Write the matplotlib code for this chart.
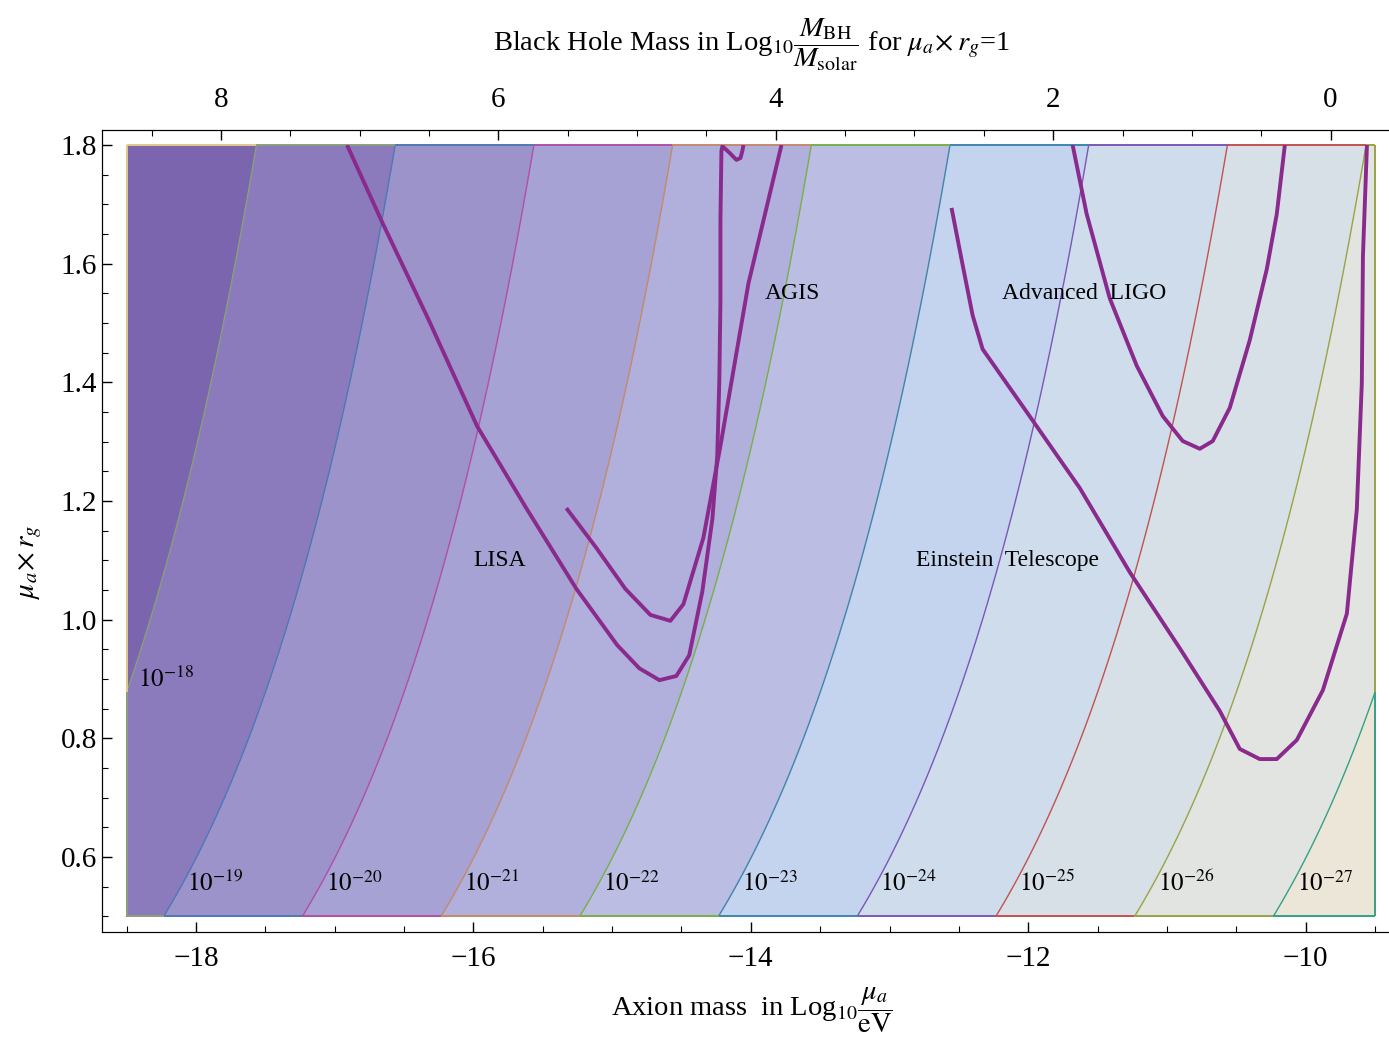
import numpy as np
import matplotlib
matplotlib.use("Agg")
import matplotlib.pyplot as plt
from matplotlib.collections import LineCollection
from matplotlib.patches import Rectangle

plt.rcParams["font.family"] = ["Liberation Serif", "DejaVu Serif"]
plt.rcParams["mathtext.fontset"] = "stix"

# plotted region of the strain map
x_range = [-18.5, -9.5]
y_range = [0.5, 1.8]

# log10 h = -x + 3*log10(y) + offset
h_slope = 3.0
h_offset = -36.33

# offset between axion mass and BH mass scales (top axis)
mass_offset = -9.82

levels = [-27, -26, -25, -24, -23, -22, -21, -20, -19, -18]
line_colors = ["#34a184", "#98a444", "#c4524e", "#7c58b6", "#3f86ad",
               "#78b04a", "#c58a6c", "#b24fa9", "#4c7ab6", "#8aa07a"]
band_colors = ["#ece6d9", "#e1e4e1", "#d7e0e7", "#cedcec", "#c4d3ee",
               "#bbbde2", "#b1afdb", "#a6a2d3", "#9b93ca", "#8b7bbd", "#7b65ae"]
edge_top_color = "#e2c98c"

# detector sensitivity curves (log10 mu, mu*rg)
lisa_x = [-16.911, -16.658, -16.326, -15.973, -15.619, -15.258, -14.963, -14.804,
          -14.659, -14.537, -14.444, -14.350, -14.277, -14.242, -14.227, -14.219,
          -14.219, -14.212, -14.205, -14.154, -14.104, -14.075, -14.061, -14.053]
lisa_y = [1.800, 1.670, 1.507, 1.326, 1.188, 1.052, 0.957, 0.918,
          0.898, 0.905, 0.940, 1.047, 1.170, 1.276, 1.404, 1.539,
          1.674, 1.790, 1.798, 1.787, 1.775, 1.778, 1.790, 1.800]

agis_x = [-15.330, -15.114, -14.905, -14.724, -14.580, -14.486, -14.342, -14.219,
          -14.017, -13.779]
agis_y = [1.188, 1.121, 1.052, 1.008, 0.998, 1.026, 1.138, 1.293, 1.567, 1.800]

ligo_x = [-11.680, -11.579, -11.413, -11.218, -11.030, -10.886, -10.763, -10.670,
          -10.547, -10.403, -10.280, -10.208, -10.150]
ligo_y = [1.800, 1.684, 1.542, 1.428, 1.343, 1.301, 1.288, 1.301,
          1.357, 1.471, 1.591, 1.684, 1.800]

et_x = [-12.553, -12.473, -12.401, -12.329, -11.990, -11.629, -11.268, -10.908,
        -10.619, -10.475, -10.331, -10.208, -10.064, -9.876, -9.703, -9.631,
        -9.595, -9.587, -9.558]
et_y = [1.694, 1.598, 1.513, 1.456, 1.343, 1.222, 1.080, 0.952,
        0.846, 0.782, 0.765, 0.765, 0.797, 0.881, 1.010, 1.186,
        1.399, 1.613, 1.800]

detector_names = ["LISA", "AGIS", "Advanced  LIGO", "Einstein  Telescope"]
name_x = [-15.81, -13.70, -11.60, -12.15]
name_y = [1.10, 1.55, 1.55, 1.10]


def log_strain(x, y):
    return -x + h_slope * np.log10(y) + h_offset


fig = plt.figure(figsize=(13.89, 10.41), dpi=100)
ax = fig.add_axes([0.0732, 0.105, 0.9347, 0.7705])

xs = np.linspace(x_range[0], x_range[1], 600)
ys = np.linspace(y_range[0], y_range[1], 400)
X, Y = np.meshgrid(xs, ys)
L = log_strain(X, Y)

ax.contourf(X, Y, L, levels=[-40] + levels + [-10], colors=band_colors)
ax.contour(X, Y, L, levels=levels, colors=line_colors, linewidths=1.0)

# thin coloured border of the plotted region
corners = [(x_range[0], y_range[0]), (x_range[1], y_range[0]),
           (x_range[1], y_range[1]), (x_range[0], y_range[1]),
           (x_range[0], y_range[0])]
segs, cols = [], []
for (x0, y0), (x1, y1) in zip(corners[:-1], corners[1:]):
    t = np.linspace(0, 1, 800)
    px = x0 + (x1 - x0) * t
    py = y0 + (y1 - y0) * t
    for i in range(len(t) - 1):
        segs.append([(px[i], py[i]), (px[i + 1], py[i + 1])])
        k = int(np.ceil(log_strain((px[i] + px[i + 1]) / 2, (py[i] + py[i + 1]) / 2)))
        cols.append(line_colors[levels.index(k)] if k in levels else edge_top_color)
ax.add_collection(LineCollection(segs, colors=cols, linewidths=1.4))

# detector curves, clipped to the plotted region
clip = Rectangle((x_range[0], y_range[0]), x_range[1] - x_range[0],
                 y_range[1] - y_range[0], transform=ax.transData)
for cx, cy in [(lisa_x, lisa_y), (agis_x, agis_y), (ligo_x, ligo_y), (et_x, et_y)]:
    ln, = ax.plot(cx, cy, color="#8a2a8c", lw=2.8, solid_capstyle="butt")
    ln.set_clip_path(clip)

for name, nx, ny in zip(detector_names, name_x, name_y):
    ax.text(nx, ny, name, ha="center", va="center", fontsize=17)

# contour labels near the bottom edge
for k in levels[:-1]:
    xl = -k + h_slope * np.log10(0.56) + h_offset
    ax.text(xl + 0.02, 0.556, r"$10^{%d}$" % k, ha="left", va="center", fontsize=18)
ax.text(-18.42, 0.90, r"$10^{-18}$", ha="left", va="center", fontsize=18)

ax.set_xlim(-18.68, -9.32)
ax.set_ylim(0.474, 1.826)
ax.set_xticks([-18, -16, -14, -12, -10])
ax.set_xticks(np.arange(-18.5, -9.3, 0.5), minor=True)
ax.set_yticks(np.arange(0.6, 1.81, 0.2))
ax.set_yticklabels(["%.1f" % v for v in np.arange(0.6, 1.81, 0.2)])
ax.set_yticks(np.arange(0.5, 1.81, 0.05), minor=True)
ax.tick_params(which="both", direction="in", labelsize=21, right=False, top=False)
ax.tick_params(which="major", length=7, width=1)
ax.tick_params(which="minor", length=4, width=0.8)
ax.tick_params(axis="x", pad=10)
ax.spines["right"].set_visible(False)

ax2 = ax.twiny()
ax2.set_xlim(-(-18.68) + mass_offset, -(-9.32) + mass_offset)
ax2.set_xticks([8, 6, 4, 2, 0])
ax2.set_xticks(np.arange(-0.5, 8.9, 0.5), minor=True)
ax2.tick_params(which="both", direction="in", labelsize=21, pad=12)
ax2.tick_params(which="major", length=7, width=1)
ax2.tick_params(which="minor", length=4, width=0.8)
ax2.spines["right"].set_visible(False)

fig.text(0.541, 0.957,
         r"Black Hole Mass in Log$_{10}\dfrac{M_{\rm BH}}{M_{\rm solar}}$ for $\mu_a\!\times r_g$=1",
         ha="center", va="center", fontsize=20.5)
fig.text(0.541, 0.03, r"Axion mass  in Log$_{10}\dfrac{\mu_a}{\rm eV}$",
         ha="center", va="center", fontsize=20.5)
fig.text(0.022, 0.46, r"$\mu_a\!\times r_g$", ha="center", va="center",
         rotation=90, fontsize=21)

fig.savefig("out.png", dpi=100)
